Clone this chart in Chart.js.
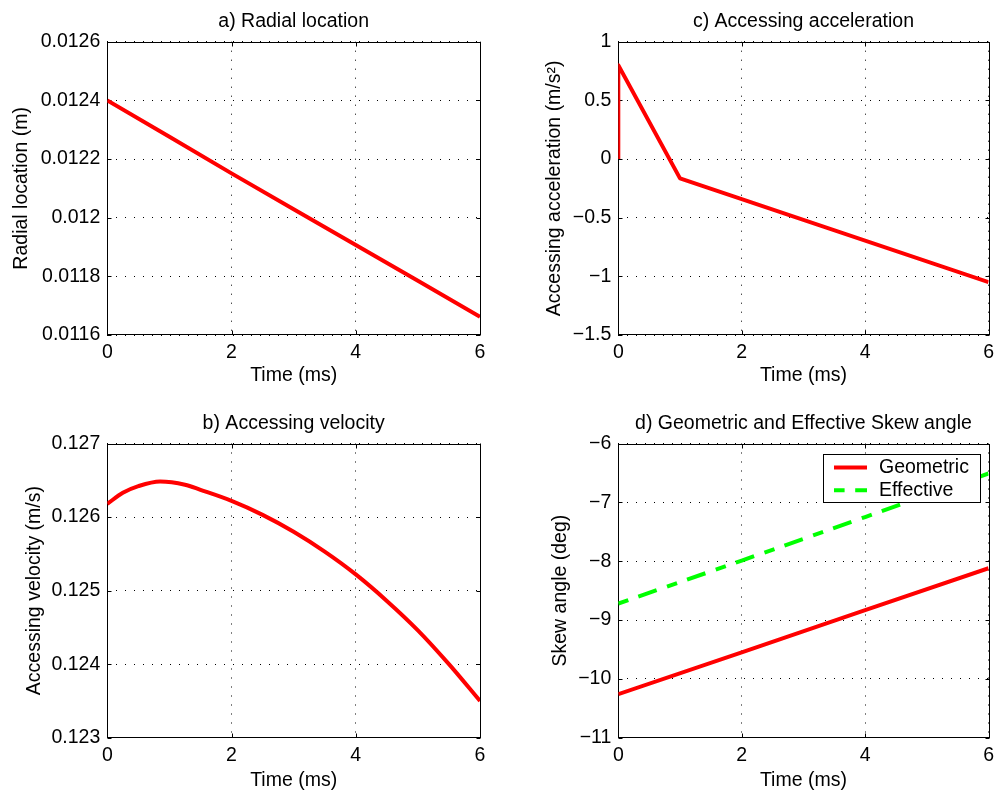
<!DOCTYPE html>
<html lang="en">
<head>
<meta charset="UTF-8">
<title>Seek profile</title>
<script src="https://cdn.jsdelivr.net/npm/chart.js"></script>
<style>
  html, body { margin: 0; padding: 0; background: #fff; overflow: hidden; }
  .panel { position: absolute; width: 500px; height: 397px; }
  .panel canvas { display: block; }
</style>
</head>
<body>
<div class="panel" style="left:0;top:0"><canvas id="radial" width="500" height="397"></canvas></div>
<div class="panel" style="left:500px;top:0"><canvas id="accel" width="500" height="397"></canvas></div>
<div class="panel" style="left:0;top:397px"><canvas id="velocity" width="500" height="397"></canvas></div>
<div class="panel" style="left:500px;top:397px"><canvas id="skew" width="500" height="397"></canvas></div>

<script>
const timeTicks = [0, 2, 4, 6];

// a) radial location (m)
const radialTime = [0, 1, 2, 3, 4, 5, 6];
const radialLocation = [0.01240, 0.012276, 0.012151, 0.012029, 0.011907, 0.011785, 0.011662];
const radialTicks = [0.0116, 0.0118, 0.012, 0.0122, 0.0124, 0.0126];

// b) accessing velocity (m/s)
const velocityTime = [0, 0.25, 0.5, 0.85, 1.25, 1.5, 2, 2.5, 3, 3.5, 4, 4.5, 5, 5.5, 6];
const velocity = [0.12618, 0.12633, 0.12642, 0.126484, 0.12644, 0.12637, 0.12622, 0.12603,
                  0.12580, 0.12553, 0.12522, 0.12486, 0.12446, 0.12400, 0.12350];
const velocityTicks = [0.123, 0.124, 0.125, 0.126, 0.127];

// c) accessing acceleration (m/s^2)
const accelTime = [0, 0, 1, 6];
const acceleration = [0, 0.8, -0.165, -1.05];
const accelTicks = [-1.5, -1, -0.5, 0, 0.5, 1];

// d) skew angle (deg)
const skewTime = [0, 2, 4, 6];
const skewGeometric = [-10.26, -9.55, -8.83, -8.12];
const skewEffective = [-8.72, -7.99, -7.25, -6.51];
const skewTicks = [-11, -10, -9, -8, -7, -6];

const FONT = '"Liberation Sans", Arial, Helvetica, sans-serif';
const FONT_SIZE = 19.5;
Chart.defaults.font.family = FONT;
Chart.defaults.font.size = FONT_SIZE;
Chart.defaults.color = '#000';

const points = (xs, ys) => xs.map((x, i) => ({x: x, y: ys[i]}));
const fmt = v => String(+Number(v).toPrecision(6)).replace('-', '\u2212');

// axes box with small inward ticks on all four sides, under the curves
const frame = {
  id: 'frame',
  beforeDatasetsDraw(chart) {
    const {ctx, chartArea: a, scales} = chart;
    const L = Math.round(a.left) + 0.5, R = Math.round(a.right) + 0.5;
    const T = Math.round(a.top) + 0.5, B = Math.round(a.bottom) - 0.5;
    const tl = 4;
    ctx.save();
    ctx.strokeStyle = '#000';
    ctx.lineWidth = 1;
    ctx.strokeRect(L, T, R - L, B - T);
    ctx.beginPath();
    scales.x.ticks.forEach(t => {
      const px = Math.round(scales.x.getPixelForValue(t.value)) + 0.5;
      ctx.moveTo(px, B); ctx.lineTo(px, B - tl);
      ctx.moveTo(px, T); ctx.lineTo(px, T + tl);
    });
    scales.y.ticks.forEach(t => {
      const py = Math.round(scales.y.getPixelForValue(t.value)) + 0.5;
      ctx.moveTo(L, py); ctx.lineTo(L + tl, py);
      ctx.moveTo(R, py); ctx.lineTo(R - tl, py);
    });
    ctx.stroke();
    ctx.restore();
  }
};

// boxed legend in the upper right corner of the plot area
const boxLegend = {
  id: 'boxLegend',
  afterDatasetsDraw(chart) {
    const {ctx, chartArea: a} = chart;
    const w = 157, h = 48;
    const x0 = Math.round(a.right - 9 - w) + 0.5;
    const y0 = Math.round(a.top + 10.5) + 0.5;
    ctx.save();
    ctx.fillStyle = '#fff';
    ctx.fillRect(x0, y0, w, h);
    ctx.strokeStyle = '#000';
    ctx.lineWidth = 1;
    ctx.strokeRect(x0, y0, w, h);
    ctx.font = FONT_SIZE + 'px ' + FONT;
    ctx.textBaseline = 'middle';
    chart.data.datasets.forEach((ds, i) => {
      const yy = y0 + 13 + i * 22.7;
      ctx.strokeStyle = ds.borderColor;
      ctx.lineWidth = ds.borderWidth;
      ctx.setLineDash(ds.borderDash || []);
      ctx.beginPath();
      ctx.moveTo(x0 + 10.5, yy);
      ctx.lineTo(x0 + 43.5, yy);
      ctx.stroke();
      ctx.setLineDash([]);
      ctx.fillStyle = '#000';
      ctx.fillText(ds.label, x0 + 55.5, yy);
    });
    ctx.restore();
  }
};

function axis(ticks, label, size, titlePad, horizontal) {
  return {
    type: 'linear',
    min: ticks[0],
    max: ticks[ticks.length - 1],
    afterBuildTicks: s => { s.ticks = ticks.map(v => ({value: v})); },
    afterFit: s => { if (horizontal) s.height = size; else s.width = size; },
    grid: { color: '#000', lineWidth: 1, drawTicks: false },
    border: { display: false, dash: [1, 8] },
    ticks: { padding: horizontal ? 6 : 7, autoSkip: false, maxRotation: 0, callback: v => fmt(v) },
    title: {
      display: true,
      text: label,
      padding: horizontal ? {top: 0, bottom: titlePad} : {top: titlePad, bottom: 0}
    }
  };
}

function line(label, xs, ys, color, dash) {
  return {
    label: label,
    data: points(xs, ys),
    borderColor: color,
    backgroundColor: color,
    borderWidth: 4,
    borderDash: dash || [],
    borderJoinStyle: 'round',
    pointRadius: 0,
    fill: false,
    tension: 0
  };
}

function plot(id, p) {
  return new Chart(document.getElementById(id), {
    type: 'line',
    data: { datasets: p.datasets },
    options: {
      responsive: false,
      animation: false,
      devicePixelRatio: 1,
      layout: { padding: { left: 0, right: p.padRight, top: 0, bottom: 0 } },
      plugins: {
        legend: { display: false },
        tooltip: { enabled: false },
        title: {
          display: true,
          text: p.title,
          fullSize: false,
          color: '#000',
          font: { size: FONT_SIZE, weight: 'normal' },
          padding: { top: p.titleTop, bottom: 8.3 }
        }
      },
      scales: {
        x: axis(timeTicks, 'Time (ms)', p.xHeight, p.xTitlePad, true),
        y: axis(p.yTicks, p.yLabel, p.yWidth, p.yTitlePad, false)
      }
    },
    plugins: [frame].concat(p.extra || [])
  });
}

plot('radial', {
  title: 'a) Radial location',
  yLabel: 'Radial location (m)',
  yTicks: radialTicks,
  datasets: [line('Radial location', radialTime, radialLocation, '#ff0000')],
  yWidth: 107.3, xHeight: 62, padRight: 20, titleTop: 10, yTitlePad: 9.6, xTitlePad: 9.6
});

plot('accel', {
  title: 'c) Accessing acceleration',
  yLabel: 'Accessing acceleration (m/s\u00b2)',
  yTicks: accelTicks,
  datasets: [line('Accessing acceleration', accelTime, acceleration, '#ff0000')],
  yWidth: 118.3, xHeight: 62, padRight: 9, titleTop: 10, yTitlePad: 43, xTitlePad: 9.6
});

// smooth curve through the sampled velocity
const velocityLine = line('Accessing velocity', velocityTime, velocity, '#ff0000');
velocityLine.cubicInterpolationMode = 'monotone';
plot('velocity', {
  title: 'b) Accessing velocity',
  yLabel: 'Accessing velocity (m/s)',
  yTicks: velocityTicks,
  datasets: [velocityLine],
  yWidth: 107.3, xHeight: 56.3, padRight: 20, titleTop: 14.8, yTitlePad: 22.7, xTitlePad: 1.2
});

plot('skew', {
  title: 'd) Geometric and Effective Skew angle',
  yLabel: 'Skew angle (deg)',
  yTicks: skewTicks,
  datasets: [
    line('Geometric', skewTime, skewGeometric, '#ff0000'),
    line('Effective', skewTime, skewEffective, '#00ff00', [10.6, 10.6, 19.4, 11])
  ],
  yWidth: 118.3, xHeight: 56.3, padRight: 9, titleTop: 14.8, yTitlePad: 49.4, xTitlePad: 1.2,
  extra: [boxLegend]
});
</script>
</body>
</html>
